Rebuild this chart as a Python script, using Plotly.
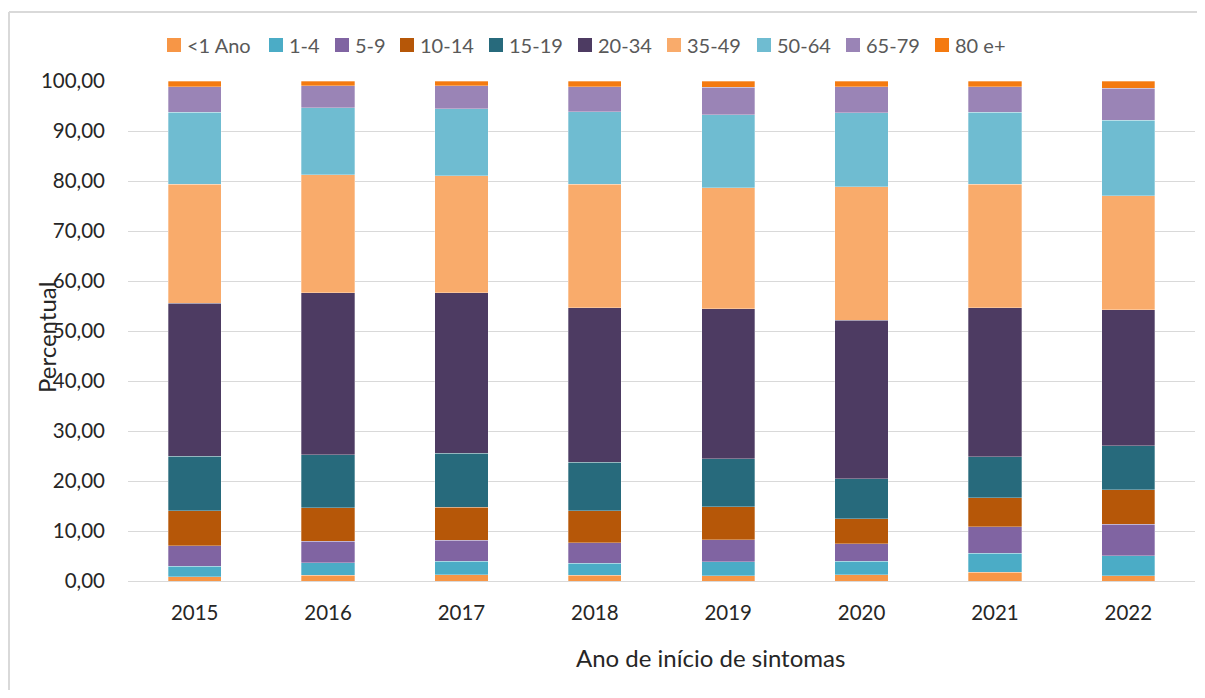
"""Stacked 100% bars: age-group share by year of symptom onset."""

import plotly.graph_objects as go

# ── Data ──────────────────────────────────────────────────────────────────────

years = ["2015", "2016", "2017", "2018", "2019", "2020", "2021", "2022"]
age_groups = ["<1 Ano", "1-4", "5-9", "10-14", "15-19",
              "20-34", "35-49", "50-64", "65-79", "80 e+"]

lt1    = [0.9, 1.2, 1.3, 1.2, 1.1, 1.3, 1.8, 1.1]
a1_4   = [2.1, 2.5, 2.7, 2.4, 2.8, 2.7, 3.8, 4.0]
a5_9   = [4.1, 4.3, 4.2, 4.1, 4.4, 3.5, 5.3, 6.3]
a10_14 = [7.0, 6.7, 6.6, 6.4, 6.6, 5.0, 5.8, 6.9]
a15_19 = [10.9, 10.6, 10.8, 9.7, 9.6, 8.0, 8.2, 8.8]
a20_34 = [30.6, 32.4, 32.1, 30.9, 30.0, 31.7, 29.8, 27.2]
a35_49 = [23.8, 23.6, 23.4, 24.7, 24.2, 26.7, 24.7, 22.8]
a50_64 = [14.4, 13.4, 13.4, 14.5, 14.6, 14.8, 14.4, 15.1]
a65_79 = [5.1, 4.4, 4.6, 5.0, 5.5, 5.2, 5.1, 6.4]
a80p   = [1.1, 0.9, 0.9, 1.1, 1.2, 1.1, 1.1, 1.4]

series = [lt1, a1_4, a5_9, a10_14, a15_19, a20_34, a35_49, a50_64, a65_79, a80p]
colors = ["#F79646", "#4BACC6", "#8064A2", "#B65708", "#276A7C",
          "#4D3B62", "#F9AB6B", "#6FBCD1", "#9A84B6", "#F47A10"]

# ── Style / layout constants ──────────────────────────────────────────────────

FONT = "Lato, 'Open Sans', sans-serif"
TXT = "#262626"
LEG_TXT = "#595959"
GRID = "#D9D9D9"

# page body has an 8px margin all round; keep the figure inside the window
W, H = 1197, 682
PL, PR, PT, PB = 120, 10, 73, 109          # plot area 1067 x 500
PW, PH = W - PL - PR, H - PT - PB


def px(x):
    """Window x pixel -> paper coordinate."""
    return (x - 8 - PL) / PW


def py(y):
    """Window y pixel -> paper coordinate."""
    return (H - PB - (y - 8)) / PH


# legend swatch left edges (window px), Excel-style tight legend
legend_left = [167, 269, 335, 400, 489, 578, 667, 757, 846, 935]
LEG_Y = 45
SW = 14

fig = go.Figure()
for name, vals, col in zip(age_groups, series, colors):
    fig.add_trace(go.Bar(
        x=years, y=vals, name=name,
        marker=dict(color=col, line=dict(color="rgba(255,255,255,0.5)", width=0.6)),
        showlegend=False,
    ))

fig.update_layout(
    barmode="stack",
    bargap=0.6,
    width=W, height=H,
    paper_bgcolor="white", plot_bgcolor="white",
    margin=dict(l=PL, r=PR, t=PT, b=PB, autoexpand=False),
    font=dict(family=FONT, size=20, color=TXT),
    separators=",.",
    showlegend=False,
)

fig.update_yaxes(
    range=[0, 100], dtick=10, tickformat=".2f",
    showgrid=True, gridcolor=GRID, gridwidth=1.3,
    zeroline=False, showline=False,
    ticks="", ticklabelstandoff=22,
    tickfont=dict(size=20.5, color=TXT),
)
fig.update_xaxes(
    showline=True, linecolor=GRID, linewidth=1.3,
    ticks="", ticklabelstandoff=13,
    tickfont=dict(size=20.5, color=TXT),
)

# ── Legend (drawn like Excel's compact legend) ────────────────────────────────

for name, col, x0 in zip(age_groups, colors, legend_left):
    fig.add_shape(
        type="rect", xref="paper", yref="paper",
        x0=px(x0), x1=px(x0 + SW), y0=py(LEG_Y + SW / 2), y1=py(LEG_Y - SW / 2),
        fillcolor=col, line=dict(width=0),
    )
    fig.add_annotation(
        text=name, xref="paper", yref="paper",
        x=px(x0 + SW + 4), y=py(LEG_Y), xanchor="left", yanchor="middle",
        showarrow=False, font=dict(size=20, color=LEG_TXT, family=FONT),
    )

# ── Axis titles ───────────────────────────────────────────────────────────────

fig.add_annotation(
    text="Ano de início de sintomas", xref="paper", yref="paper",
    x=px(711), y=py(657), xanchor="center", yanchor="middle", showarrow=False,
    font=dict(size=24, color=TXT, family=FONT),
)
fig.add_annotation(
    text="Percentual", xref="paper", yref="paper",
    x=px(46), y=py(338), xanchor="center", yanchor="middle", showarrow=False,
    textangle=-90, font=dict(size=24, color=TXT, family=FONT),
)

# chart-area frame: only the top and left edges fall inside the window
fig.add_shape(
    type="line", xref="paper", yref="paper",
    x0=px(9), x1=px(1300), y0=py(12), y1=py(12),
    line=dict(color=GRID, width=2), layer="below",
)
fig.add_shape(
    type="line", xref="paper", yref="paper",
    x0=px(9), x1=px(9), y0=py(12), y1=py(760),
    line=dict(color=GRID, width=2), layer="below",
)

fig.write_html("out.html")
